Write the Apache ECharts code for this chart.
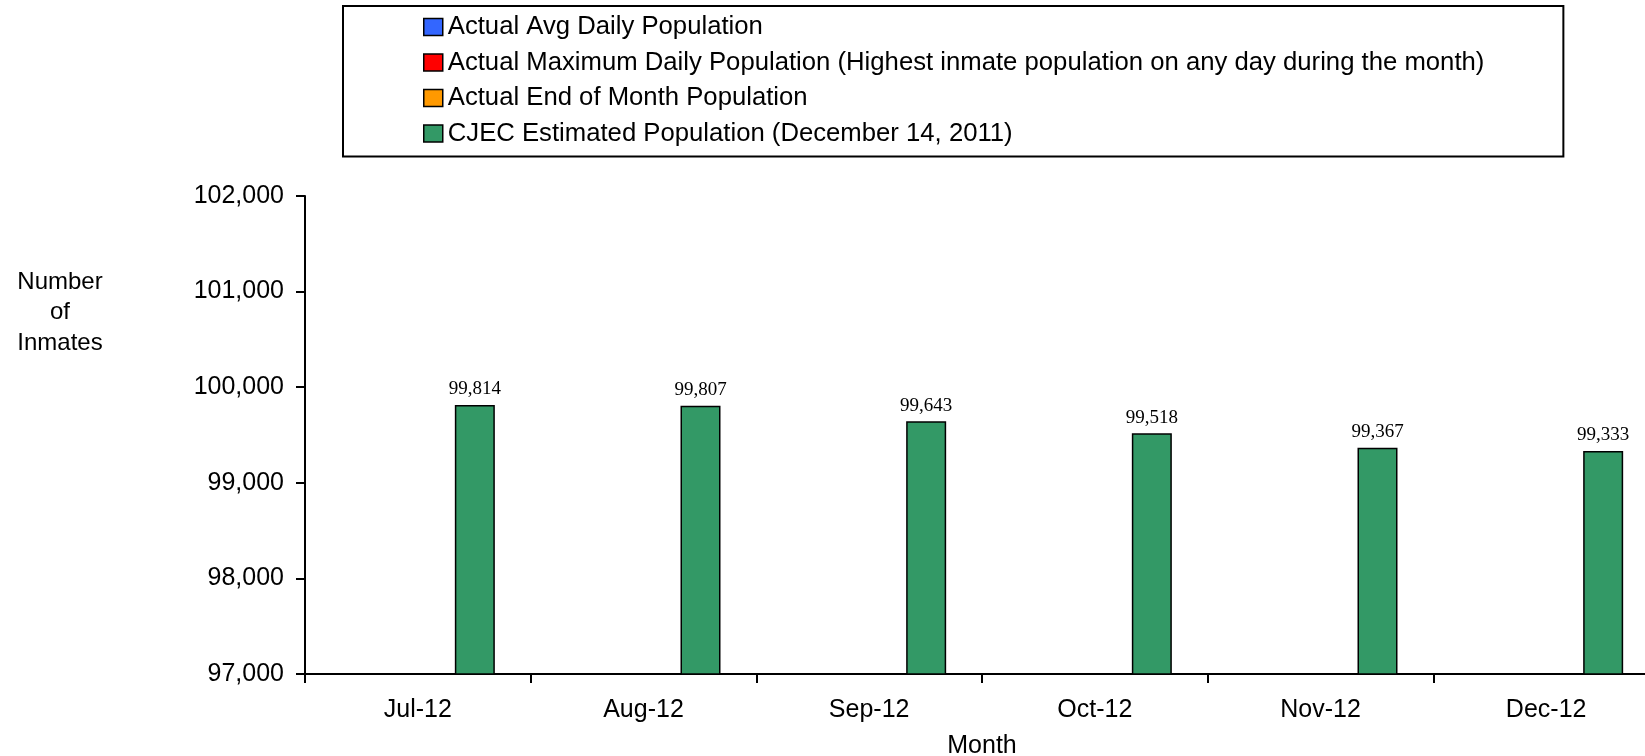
<!DOCTYPE html>
<html>
<head>
<meta charset="utf-8">
<script src="https://cdn.jsdelivr.net/npm/echarts@6/dist/echarts.min.js"></script>
<style>
html,body{margin:0;padding:0;background:#fff;}
#chart{width:1645px;height:756px;}
</style>
</head>
<body>
<div id="chart"></div>
<script>
const months = ['Jul-12','Aug-12','Sep-12','Oct-12','Nov-12','Dec-12'];
const seriesNames = [
  'Actual Avg Daily Population',
  'Actual Maximum Daily Population (Highest inmate population on any day during the month)',
  'Actual End of Month Population',
  'CJEC Estimated Population (December 14, 2011)'
];
const actualAvg = [null,null,null,null,null,null];
const actualMax = [null,null,null,null,null,null];
const actualEnd = [null,null,null,null,null,null];
const cjecEstimate = [99814, 99807, 99643, 99518, 99367, 99333];
const seriesColors = ['#3366FF','#FF0000','#FF9900','#339966'];
const yMin = 97000, yMax = 102000, yStep = 1000;

const chart = echarts.init(document.getElementById('chart'));
const fmt = v => Number(v).toLocaleString('en-US');
const allData = [actualAvg, actualMax, actualEnd, cjecEstimate];

const series = allData.map((d, i) => ({
  name: seriesNames[i],
  type: 'bar',
  data: d,
  barWidth: 40,
  barGap: '-5%',
  itemStyle: { color: seriesColors[i], borderColor: '#000', borderWidth: 1.5 },
  label: {
    show: i === 3,
    position: 'top',
    distance: 6,
    formatter: p => fmt(p.value),
    fontFamily: '"Liberation Serif", "Times New Roman", serif',
    fontSize: 19,
    color: '#000'
  },
  animation: false
}));

chart.setOption({
  animation: false,
  backgroundColor: '#fff',
  grid: { left: 305, top: 196, bottom: 82, width: 1354, containLabel: false, outerBoundsMode: 'none' },
  legend: {
    orient: 'vertical',
    left: 343,
    top: 6,
    padding: [8, 79, 10, 80],
    itemGap: 9.5,
    itemWidth: 19,
    itemHeight: 17,
    borderColor: '#000',
    borderWidth: 2,
    borderRadius: 0,
    icon: 'rect',
    itemStyle: { borderColor: '#000', borderWidth: 1.5 },
    textStyle: { fontFamily: '"Liberation Sans", Arial, sans-serif', fontSize: 25.7, lineHeight: 25, color: '#000' },
    data: seriesNames
  },
  xAxis: {
    type: 'category',
    data: months,
    boundaryGap: true,
    name: 'Month',
    nameLocation: 'middle',
    nameGap: 60,
    nameTextStyle: { fontFamily: '"Liberation Sans", Arial, sans-serif', fontSize: 25, color: '#000' },
    axisLine: { lineStyle: { color: '#000', width: 2 } },
    axisTick: { show: true, length: 9, lineStyle: { color: '#000', width: 2 } },
    axisLabel: { fontFamily: '"Liberation Sans", Arial, sans-serif', fontSize: 25, color: '#000', margin: 24 }
  },
  yAxis: {
    type: 'value',
    min: yMin,
    max: yMax,
    interval: yStep,
    axisLine: { show: true, lineStyle: { color: '#000', width: 2 } },
    axisTick: { show: true, length: 9, lineStyle: { color: '#000', width: 2 } },
    splitLine: { show: false },
    axisLabel: { fontFamily: '"Liberation Sans", Arial, sans-serif', fontSize: 25, color: '#000', margin: 21, formatter: v => fmt(v) }
  },
  graphic: [{
    type: 'text',
    x: 60,
    y: 267,
    style: {
      text: 'Number\nof\nInmates',
      textAlign: 'center',
      textVerticalAlign: 'top',
      font: '24px "Liberation Sans", Arial, sans-serif',
      lineHeight: 30.5,
      fill: '#000'
    }
  }],
  series: series
});
</script>
</body>
</html>
